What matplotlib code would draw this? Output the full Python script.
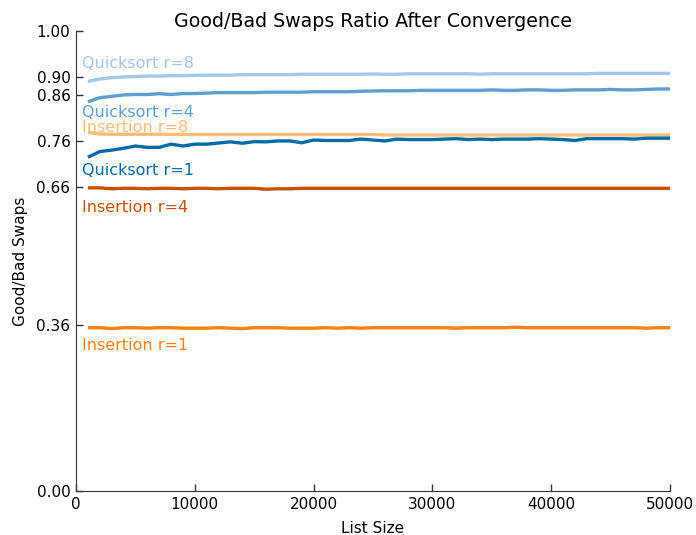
import matplotlib
matplotlib.use("Agg")
import matplotlib.pyplot as plt
import numpy as np

list_sizes = list(range(1000, 50001, 1000))

quick_r1 = [0.7255, 0.738, 0.741, 0.745, 0.750, 0.747, 0.747, 0.754, 0.750, 0.754,
            0.754, 0.7565, 0.759, 0.756, 0.7595, 0.759, 0.761, 0.761, 0.757, 0.763,
            0.762, 0.762, 0.762, 0.765, 0.763, 0.761, 0.765, 0.764, 0.764, 0.764,
            0.765, 0.766, 0.764, 0.765, 0.764, 0.765, 0.765, 0.765, 0.766, 0.765,
            0.764, 0.762, 0.766, 0.766, 0.766, 0.766, 0.765, 0.767, 0.767, 0.767]
quick_r4 = [0.846, 0.855, 0.858, 0.861, 0.862, 0.862, 0.8637, 0.862, 0.864, 0.864,
            0.865, 0.866, 0.866, 0.866, 0.866, 0.867, 0.867, 0.867, 0.867, 0.868,
            0.868, 0.868, 0.868, 0.869, 0.8696, 0.870, 0.870, 0.870, 0.871, 0.871,
            0.871, 0.871, 0.871, 0.871, 0.872, 0.871, 0.871, 0.872, 0.872, 0.871,
            0.871, 0.872, 0.872, 0.872, 0.873, 0.872, 0.872, 0.873, 0.874, 0.874]
quick_r8 = [0.8906, 0.8956, 0.8985, 0.900, 0.901, 0.902, 0.902, 0.903, 0.903, 0.9035,
            0.904, 0.904, 0.904, 0.905, 0.905, 0.905, 0.905, 0.905, 0.906, 0.906,
            0.906, 0.906, 0.906, 0.906, 0.9065, 0.906, 0.906, 0.907, 0.907, 0.907,
            0.907, 0.907, 0.907, 0.906, 0.907, 0.907, 0.907, 0.907, 0.907, 0.907,
            0.907, 0.907, 0.907, 0.908, 0.908, 0.908, 0.908, 0.908, 0.908, 0.908]
ins_r8 = [0.7797, 0.776, 0.7755, 0.7755, 0.7755, 0.7755, 0.7755, 0.775, 0.775, 0.775,
          0.775, 0.775, 0.775, 0.775, 0.775, 0.775, 0.775, 0.775, 0.775, 0.775,
          0.775, 0.775, 0.775, 0.775, 0.775, 0.774, 0.774, 0.774, 0.774, 0.774,
          0.774, 0.774, 0.774, 0.774, 0.774, 0.774, 0.774, 0.774, 0.774, 0.774,
          0.774, 0.774, 0.774, 0.774, 0.774, 0.774, 0.774, 0.774, 0.774, 0.774]
ins_r4 = [0.659, 0.659, 0.657, 0.658, 0.658, 0.657, 0.658, 0.658, 0.657, 0.658,
          0.658, 0.657, 0.658, 0.658, 0.658, 0.656, 0.657, 0.657, 0.658, 0.658,
          0.658, 0.658, 0.658, 0.658, 0.658, 0.658, 0.658, 0.658, 0.658, 0.658,
          0.658, 0.658, 0.658, 0.658, 0.658, 0.658, 0.658, 0.658, 0.658, 0.658,
          0.658, 0.658, 0.658, 0.658, 0.658, 0.658, 0.658, 0.658, 0.658, 0.658]
ins_r1 = [0.355, 0.355, 0.353, 0.355, 0.355, 0.354, 0.355, 0.355, 0.354, 0.354,
          0.354, 0.355, 0.354, 0.353, 0.355, 0.355, 0.355, 0.354, 0.354, 0.354,
          0.355, 0.354, 0.355, 0.354, 0.355, 0.355, 0.355, 0.355, 0.355, 0.355,
          0.355, 0.354, 0.355, 0.355, 0.355, 0.355, 0.356, 0.355, 0.355, 0.355,
          0.355, 0.355, 0.355, 0.355, 0.355, 0.355, 0.355, 0.354, 0.355, 0.355]

series_names = ["Quicksort r=8", "Quicksort r=4", "Insertion r=8",
                "Quicksort r=1", "Insertion r=4", "Insertion r=1"]
series_values = [quick_r8, quick_r4, ins_r8, quick_r1, ins_r4, ins_r1]
series_colors = ["#A2C8EC", "#5F9ED1", "#FFBC79", "#006BA4", "#C85200", "#FF800E"]
label_y = [0.929, 0.823, 0.790, 0.697, 0.616, 0.316]

y_ticks = [0.0, 0.36, 0.66, 0.76, 0.86, 0.90, 1.00]
x_ticks = [0, 10000, 20000, 30000, 40000, 50000]

fig = plt.figure(figsize=(6.96, 5.35), dpi=100)
ax = fig.add_axes([76 / 696, 44 / 535, 594 / 696, 460 / 535])

for name, vals, col, ly in zip(series_names, series_values, series_colors, label_y):
    ax.plot(list_sizes, vals, color=col, lw=2.4, solid_capstyle="butt")
    ax.text(500, ly, name, color=col, fontsize=11.5, va="center", ha="left")

ax.set_xlim(0, 50000)
ax.set_ylim(0, 1)
ax.set_xticks(x_ticks)
ax.set_yticks(y_ticks)
ax.set_yticklabels([f"{t:.2f}" for t in y_ticks])
for s in ["top", "right"]:
    ax.spines[s].set_visible(False)
for s in ["left", "bottom"]:
    ax.spines[s].set_color("#333333")
ax.tick_params(direction="in", length=5, width=1, colors="#333333", labelcolor="black",
               labelsize=11, top=False, right=False, pad=4)
ax.set_xlabel("List Size", fontsize=11, labelpad=6.5)
ax.set_ylabel("Good/Bad Swaps", fontsize=11, labelpad=6)
ax.set_title("Good/Bad Swaps Ratio After Convergence", fontsize=13.7, pad=2)

fig.savefig("out.png", dpi=100)
